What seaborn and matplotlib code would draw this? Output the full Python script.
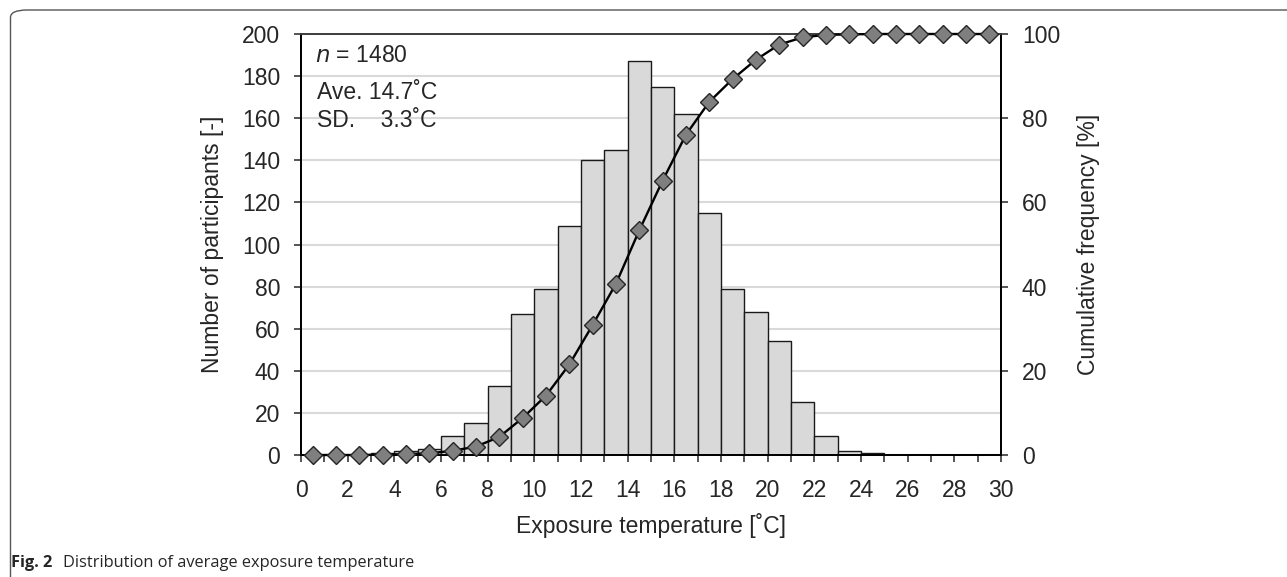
import numpy as np
import pandas as pd
import matplotlib.pyplot as plt
import seaborn as sns
from matplotlib.patches import FancyBboxPatch

# bin centres of 1 degC wide bins, 0-30 degC
temp_centres = [0.5, 1.5, 2.5, 3.5, 4.5, 5.5, 6.5, 7.5, 8.5, 9.5,
                10.5, 11.5, 12.5, 13.5, 14.5, 15.5, 16.5, 17.5, 18.5, 19.5,
                20.5, 21.5, 22.5, 23.5, 24.5, 25.5, 26.5, 27.5, 28.5, 29.5]
counts = [0, 0, 0, 1, 2, 3, 9, 15, 33, 67,
          79, 109, 140, 145, 187, 175, 162, 115, 79, 68,
          54, 25, 9, 2, 1, 0, 0, 0, 0, 0]
cum_pct = [0.0, 0.0, 0.0, 0.1, 0.2, 0.4, 1.0, 2.0, 4.3, 8.8,
           14.1, 21.5, 30.9, 40.7, 53.4, 65.2, 76.1, 83.9, 89.3, 93.9,
           97.5, 99.2, 99.8, 99.9, 100.0, 100.0, 100.0, 100.0, 100.0, 100.0]
x_ticks = list(range(0, 31, 2))
left_ticks = list(range(0, 201, 20))
right_ticks = list(range(0, 101, 20))

df = pd.DataFrame({"temp": temp_centres, "count": counts, "cum": cum_pct})

sns.set_style("white")
plt.rcParams["font.family"] = ["Liberation Sans", "DejaVu Sans"]
fs = 16.5

fig = plt.figure(figsize=(12.87, 5.77), dpi=100)
ax = fig.add_axes([301 / 1287, 1 - 455 / 577, 700 / 1287, 421 / 577])

ax.set_axisbelow(True)
ax.yaxis.grid(True, color="#d9d9d9", linewidth=1.5)
sns.barplot(data=df, x="temp", y="count", native_scale=True, width=1,
            color="#d9d9d9", saturation=1, edgecolor="#1a1a1a", linewidth=1.0,
            ax=ax, zorder=2)
ax.set_xlim(0, 30)
ax.set_ylim(0, 200)
ax.set_xticks(x_ticks)
ax.set_xticks(range(0, 31), minor=True)
ax.set_yticks(left_ticks)
ax.tick_params(axis="x", which="both", direction="out", length=5, width=1.1,
               labelsize=fs, pad=12, bottom=True)
ax.tick_params(axis="y", direction="out", length=5, width=1.1, labelsize=fs,
               pad=10, left=True)
ax.set_xlabel("Exposure temperature [˚C]", fontsize=fs, labelpad=8)
ax.set_ylabel("Number of participants [-]", fontsize=fs, labelpad=13)

ax2 = ax.twinx()
sns.lineplot(data=df, x="temp", y="cum", color="black", linewidth=1.7,
             marker="D", markersize=9.5, markerfacecolor="#7f7f7f",
             markeredgecolor="#262626", markeredgewidth=1, ax=ax2, zorder=3,
             clip_on=False)
ax2.set_ylim(0, 100)
ax2.set_yticks(right_ticks)
ax2.tick_params(axis="y", direction="out", length=5, width=1.1, labelsize=fs,
                pad=10, right=True)
ax2.set_ylabel("Cumulative frequency [%]", fontsize=fs, labelpad=12)
ax2.set_xlim(0, 30)

for a in (ax, ax2):
    for side in ("left", "bottom", "right"):
        a.spines[side].set_color("black")
        a.spines[side].set_linewidth(1.3)
    a.spines["top"].set_color("#404040")
    a.spines["top"].set_linewidth(1.3)

ax.text(0.6, 190, "$n$ = 1480", fontsize=fs, va="center", ha="left")
ax.text(0.69, 172.4, "Ave. 14.7˚C", fontsize=fs, va="center", ha="left")
ax.text(0.69, 159, "SD.    3.3˚C", fontsize=fs, va="center", ha="left")

frame = FancyBboxPatch((10.5 / 1287, -0.2), 1.2, 1.2 - 10 / 577,
                       boxstyle="round,pad=0,rounding_size=0.013",
                       transform=fig.transFigure, facecolor="none",
                       edgecolor="#555555", linewidth=1.0, clip_on=False)
fig.patches.append(frame)

fig.text(11 / 1287, 1 - 563 / 577, "Fig. 2", fontsize=11.8, fontweight="bold",
         family=["Open Sans", "DejaVu Sans"], va="center", ha="left")
fig.text(63 / 1287, 1 - 563 / 577, "Distribution of average exposure temperature",
         fontsize=11.8, family=["Open Sans", "DejaVu Sans"], va="center", ha="left")

fig.savefig("out.png", dpi=100)
